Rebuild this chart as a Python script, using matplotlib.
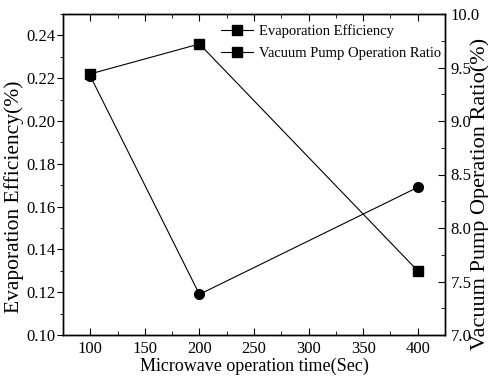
import matplotlib.pyplot as plt
from matplotlib.ticker import MultipleLocator
from matplotlib.lines import Line2D

plt.rcParams['font.family'] = ['Liberation Serif', 'DejaVu Serif']

# data
time_sec = [100, 200, 400]
evap_eff = [0.221, 0.119, 0.169]
pump_ratio = [9.44, 9.72, 7.60]

fig = plt.figure(figsize=(4.89, 3.79), dpi=100)
ax = fig.add_axes([63 / 489, 1 - 335 / 379, (445 - 63) / 489, (335 - 14) / 379])
ax2 = ax.twinx()

ax.plot(time_sec, evap_eff, color='black', lw=0.8, marker='o', ms=7)
ax2.plot(time_sec, pump_ratio, color='black', lw=0.8, marker='s', ms=7)

ax.set_xlim(75, 425)
ax.set_ylim(0.10, 0.25)
ax2.set_ylim(7.0, 10.0)

ax.xaxis.set_major_locator(MultipleLocator(50))
ax.xaxis.set_minor_locator(MultipleLocator(25))
ax.yaxis.set_major_locator(MultipleLocator(0.02))
ax.yaxis.set_minor_locator(MultipleLocator(0.01))
ax2.yaxis.set_major_locator(MultipleLocator(0.5))
ax2.yaxis.set_minor_locator(MultipleLocator(0.25))
ax.set_xticks([100, 150, 200, 250, 300, 350, 400])
ax.set_yticks([0.10, 0.12, 0.14, 0.16, 0.18, 0.20, 0.22, 0.24])
ax.set_yticklabels(['0.10', '0.12', '0.14', '0.16', '0.18', '0.20', '0.22', '0.24'])

ax.tick_params(axis='x', which='both', direction='in', top=True, labelsize=12, pad=4)
ax.tick_params(axis='x', which='major', length=5)
ax.tick_params(axis='x', which='minor', length=3)
ax.tick_params(axis='y', which='major', direction='out', length=4, labelsize=12, pad=1.5)
ax.tick_params(axis='y', which='minor', direction='out', length=2)
ax2.tick_params(axis='y', which='major', direction='in', length=5, labelsize=12, pad=4)
ax2.tick_params(axis='y', which='minor', direction='in', length=3)

for a in (ax, ax2):
    for s in a.spines.values():
        s.set_linewidth(1.0)

ax.set_xlabel('Microwave operation time(Sec)', fontsize=13, labelpad=1)
ax.set_ylabel('Evaporation Efficiency(%)', fontsize=15.5)
ax2.set_ylabel('Vacuum Pump Operation Ratio(%)', fontsize=16)
ax.yaxis.set_label_coords(-0.102, 0.43)
ax2.yaxis.set_label_coords(1.066, 0.44)

handles = [Line2D([], [], color='black', lw=0.8, marker='s', ms=7),
           Line2D([], [], color='black', lw=0.8, marker='s', ms=7)]
ax2.legend(handles, ['Evaporation Efficiency', 'Vacuum Pump Operation Ratio'],
           loc='upper right', frameon=False, fontsize=10.5, handlelength=2.2,
           handletextpad=0.4, labelspacing=0.55, borderaxespad=0.0,
           bbox_to_anchor=(1.005, 0.985))

fig.savefig('out.png', dpi=100)
